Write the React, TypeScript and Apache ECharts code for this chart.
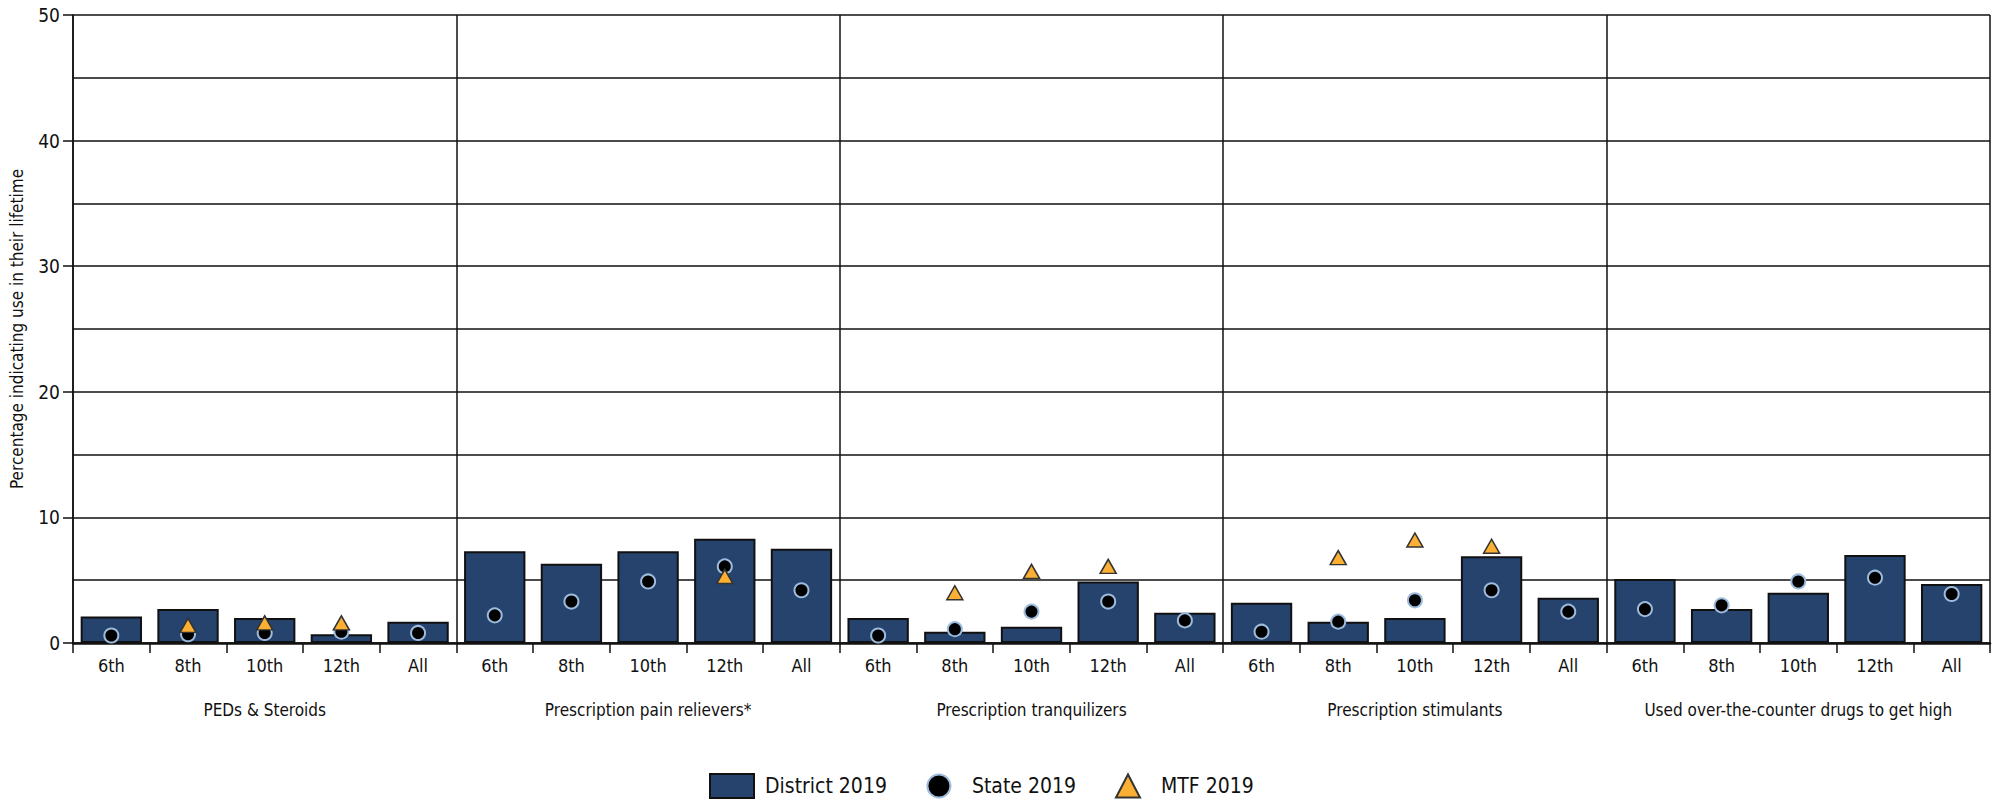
import React, { useEffect, useRef } from "react";
import * as echarts from "echarts";

const groups = [
  "PEDs & Steroids",
  "Prescription pain relievers*",
  "Prescription tranquilizers",
  "Prescription stimulants",
  "Used over-the-counter drugs to get high",
];
const grades = ["6th", "8th", "10th", "12th", "All"];

const district = [
  2.1, 2.7, 2.0, 0.7, 1.7,
  7.3, 6.3, 7.3, 8.3, 7.5,
  2.0, 0.9, 1.3, 4.9, 2.4,
  3.2, 1.7, 2.0, 6.9, 3.6,
  5.1, 2.7, 4.0, 7.0, 4.7,
];
const state = [
  0.6, 0.7, 0.8, 0.9, 0.8,
  2.2, 3.3, 4.9, 6.1, 4.2,
  0.6, 1.1, 2.5, 3.3, 1.8,
  0.9, 1.7, 3.4, 4.2, 2.5,
  2.7, 3.0, 4.9, 5.2, 3.9,
];
const mtf = [
  null, 1.4, 1.6, 1.6, null,
  null, null, null, 5.3, null,
  null, 4.0, 5.7, 6.1, null,
  null, 6.8, 8.2, 7.7, null,
  null, null, null, null, null,
];
const yTicks = { min: 0, max: 50, interval: 10 };

const FONT = "'Liberation Sans Narrow', 'DejaVu Sans Condensed', sans-serif";

const CIRCLE_ICON =
  "path://M0,0 M44,24 M10.5,12 A11.5,11.5 0 1 1 33.5,12 A11.5,11.5 0 1 1 10.5,12 Z";
const TRIANGLE_ICON = "path://M0,0 M44,24 M10,23.5 L22,0.5 L34,23.5 Z";

export default function App() {
  const ref = useRef<HTMLDivElement>(null);
  useEffect(() => {
    document.body.style.margin = "0";
    if (!ref.current) return;
    const chart = echarts.init(ref.current, null, { renderer: "svg" });
    const cats: string[] = [];
    groups.forEach(() => grades.forEach((gr) => cats.push(gr)));
    chart.setOption({
      animation: false,
      textStyle: { fontFamily: FONT, color: "#111" },
      grid: {
        left: 73,
        right: 9,
        top: 15,
        bottom: 158,
        containLabel: false,
        outerBoundsMode: "none",
      },
      legend: {
        left: 704,
        top: 768,
        itemWidth: 44,
        itemHeight: 24,
        itemGap: 29,
        textStyle: { fontFamily: FONT, fontSize: 21, color: "#111", padding: [0, 0, 0, 6] },
        data: [
          { name: "District 2019", icon: "rect" },
          { name: "State 2019", icon: CIRCLE_ICON },
          { name: "MTF 2019", icon: TRIANGLE_ICON },
        ],
      },
      xAxis: [
        {
          type: "category",
          data: cats,
          position: "bottom",
          axisLine: { show: true, lineStyle: { color: "#111", width: 2.5 } },
          axisTick: { show: true, interval: 0, length: 10, lineStyle: { color: "#111", width: 1.5 } },
          axisLabel: { interval: 0, margin: 13, fontSize: 18, color: "#111", fontFamily: FONT },
          splitLine: { show: false },
        },
        {
          type: "category",
          data: groups,
          position: "bottom",
          axisLine: { show: false },
          axisTick: { show: false },
          axisLabel: { interval: 0, margin: 58, fontSize: 17, color: "#111", fontFamily: FONT },
          splitLine: { show: true, interval: 0, lineStyle: { color: "#111", width: 1.5 } },
        },
      ],
      yAxis: {
        type: "value",
        min: yTicks.min,
        max: yTicks.max,
        interval: yTicks.interval,
        name: "Percentage indicating use in their lifetime",
        nameLocation: "middle",
        nameGap: 48,
        nameTextStyle: { fontSize: 17, color: "#111", fontFamily: FONT },
        axisLine: { show: true, lineStyle: { color: "#111", width: 1.5 } },
        axisTick: { show: true, length: 10, lineStyle: { color: "#111", width: 1.5 } },
        axisLabel: { margin: 13, fontSize: 19, color: "#111", fontFamily: FONT },
        splitLine: { show: true, lineStyle: { color: "#111", width: 1.5 } },
        minorTick: { show: false, splitNumber: 2 },
        minorSplitLine: { show: true, lineStyle: { color: "#111", width: 1.5 } },
      },
      series: [
        {
          name: "District 2019",
          type: "bar",
          xAxisIndex: 0,
          data: district,
          barCategoryGap: "20%",
          itemStyle: { color: "#26436e", borderColor: "#111", borderWidth: 2 },
          z: 2,
        },
        {
          name: "State 2019",
          type: "scatter",
          xAxisIndex: 0,
          data: state,
          symbol: "circle",
          symbolSize: 14,
          itemStyle: { color: "#000", borderColor: "#9dbbdc", borderWidth: 2, opacity: 1 },
          z: 3,
        },
        {
          name: "MTF 2019",
          type: "scatter",
          xAxisIndex: 0,
          data: mtf,
          symbol: "triangle",
          symbolSize: [16, 14],
          itemStyle: { color: "#fbb034", borderColor: "#333", borderWidth: 1.5, opacity: 1 },
          z: 4,
        },
      ],
    });
    return () => chart.dispose();
  }, []);
  return <div ref={ref} style={{ width: 1999, height: 801 }} />;
}
